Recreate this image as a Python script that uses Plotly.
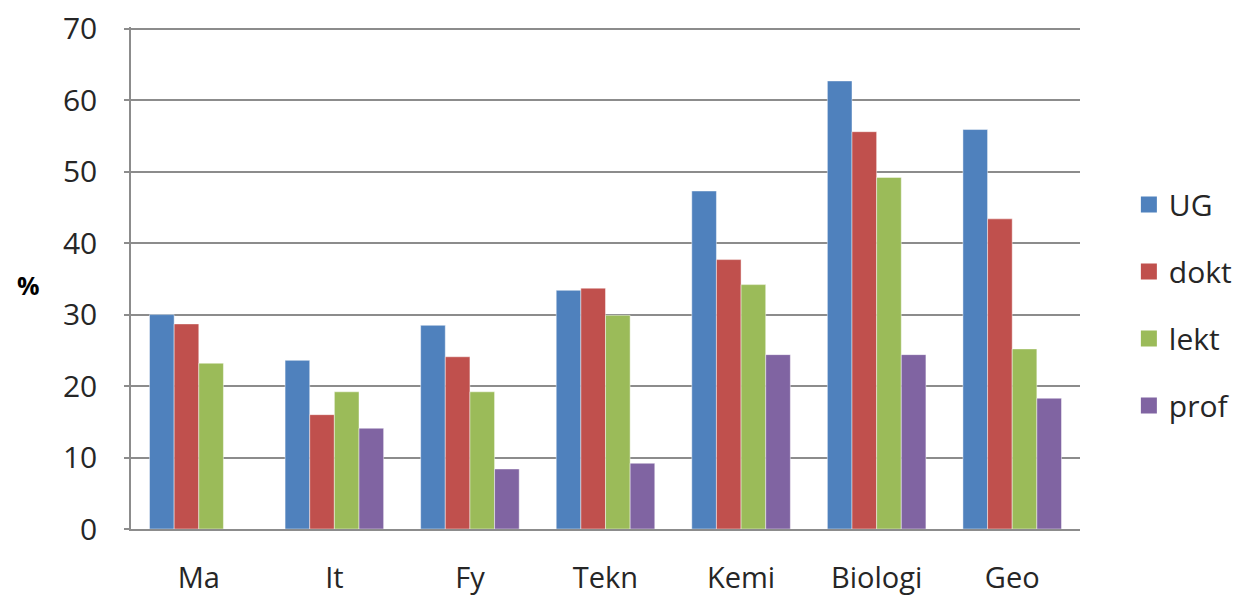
import plotly.graph_objects as go

categories = ["Ma", "It", "Fy", "Tekn", "Kemi", "Biologi", "Geo"]
series_names = ["UG", "dokt", "lekt", "prof"]
ug = [30.0, 23.6, 28.5, 33.4, 47.3, 62.7, 55.9]
dokt = [28.7, 16.0, 24.1, 33.7, 37.7, 55.6, 43.4]
lekt = [23.2, 19.2, 19.2, 29.9, 34.2, 49.2, 25.2]
prof = [None, 14.1, 8.4, 9.2, 24.4, 24.4, 18.3]
colors = ["#4F81BD", "#C0504D", "#9BBB59", "#8064A2"]

font_family = "Open Sans, Lato, DejaVu Sans, sans-serif"
text_color = "#262626"

fig = go.Figure()
for name, vals, col in zip(series_names, [ug, dokt, lekt, prof], colors):
    fig.add_trace(go.Bar(
        x=categories, y=vals, name=name,
        marker=dict(color=col, line=dict(color="rgba(255,255,255,0.45)", width=1)),
        showlegend=False, legendgroup=name,
    ))
    # legend proxy with a larger square symbol
    fig.add_trace(go.Scatter(
        x=[None], y=[None], mode="markers", name=name, legendgroup=name,
        marker=dict(symbol="square", size=16, color=col),
        showlegend=True,
    ))

fig.update_layout(
    width=1232, height=587,
    margin=dict(l=123, r=160, t=19, b=66, autoexpand=False),
    paper_bgcolor="white", plot_bgcolor="white",
    barmode="group", bargap=0.273, bargroupgap=0,
    font=dict(family=font_family, size=29, color=text_color),
    legend=dict(
        x=1.0515, xanchor="left", xref="paper", y=0.446, yanchor="middle",
        font=dict(size=30, color=text_color),
        tracegroupgap=25, itemwidth=30,
        bgcolor="rgba(0,0,0,0)",
    ),
    xaxis=dict(
        showgrid=False, showline=True, linecolor="#8c8c8c", linewidth=1.5,
        ticks="", ticklabelstandoff=22, automargin=False,
        tickfont=dict(size=29, color=text_color),
    ),
    yaxis=dict(
        range=[0, 70.25], dtick=10, showgrid=True, gridcolor="#8c8c8c", gridwidth=1.5,
        showline=True, linecolor="#8c8c8c", linewidth=1.5,
        ticks="outside", ticklen=5, tickcolor="#8c8c8c", tickwidth=1.5,
        ticklabelstandoff=21, zeroline=False, automargin=False,
        ticklabeloverflow="allow",
        tickfont=dict(size=30, color=text_color),
    ),
    annotations=[dict(
        text="<b>%</b>", xref="paper", yref="paper", x=-0.108, y=0.486,
        xanchor="center", yanchor="middle", showarrow=False,
        font=dict(size=25, color="#000000", family=font_family),
    )],
)

fig.write_html("out.html")
